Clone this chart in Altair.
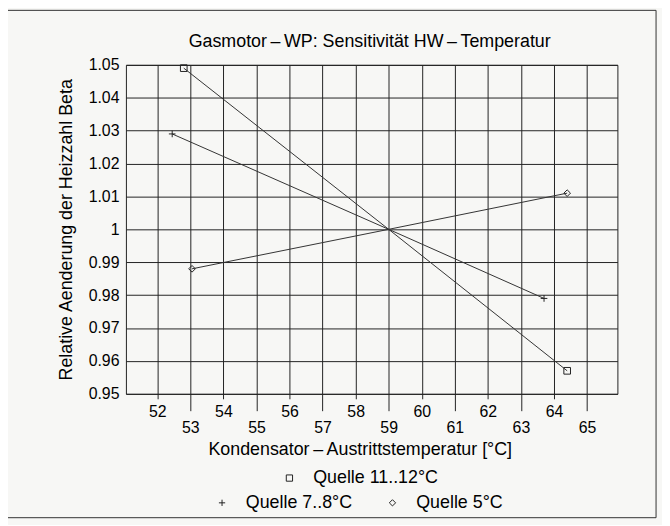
import altair as alt
import pandas as pd

series_names = ["Quelle 11..12°C", "Quelle 7..8°C", "Quelle 5°C"]

x_q11 = [52.8, 59.0, 64.4]
y_q11 = [1.049, 1.000, 0.957]

x_q7 = [52.45, 59.0, 63.7]
y_q7 = [1.029, 1.000, 0.979]

x_q5 = [53.05, 59.0, 64.4]
y_q5 = [0.988, 1.000, 1.011]

x_ticks = [52, 53, 54, 55, 56, 57, 58, 59, 60, 61, 62, 63, 64, 65]
y_ticks = [0.95, 0.96, 0.97, 0.98, 0.99, 1.0, 1.01, 1.02, 1.03, 1.04, 1.05]

chart_title = "Gasmotor\u2009–\u2009WP: Sensitivität HW\u2009–\u2009Temperatur"

rows = []
for name, xs, ys in zip(series_names, [x_q11, x_q7, x_q5], [y_q11, y_q7, y_q5]):
    for i, (xv, yv) in enumerate(zip(xs, ys)):
        rows.append({"serie": name, "T": xv, "beta": yv, "end": i != 1})
df = pd.DataFrame(rows)

FONT = "Liberation Sans"
INK = "#222222"
PLUS = "M-1,0H1M0,-1V1"
TICK_FS = 16
TITLE_FS = 18

x_enc = alt.X(
    "T:Q",
    scale=alt.Scale(domain=[51.05, 65.92], nice=False, zero=False),
    axis=alt.Axis(
        values=x_ticks,
        title="Kondensator\u2009–\u2009Austrittstemperatur [°C]",
        grid=True,
        gridColor=INK,
        gridOpacity=1,
        gridWidth=1,
        domain=False,
        ticks=True,
        tickColor=INK,
        tickSize={"condition": {"test": "datum.value % 2 == 1", "value": 17}, "value": 5},
        labelPadding={"condition": {"test": "datum.value % 2 == 1", "value": 9}, "value": 5},
        labelFont=FONT,
        labelFontSize=TICK_FS,
        labelColor="black",
        labelOverlap=False,
        titleFont=FONT,
        titleFontSize=TITLE_FS,
        titleFontWeight="normal",
        titleColor="black",
        titlePadding=5,
        titleX=236,
    ),
)

y_enc = alt.Y(
    "beta:Q",
    scale=alt.Scale(domain=[0.95, 1.05], nice=False, zero=False),
    axis=alt.Axis(
        values=y_ticks,
        format=".3~g",
        title="Relative Aenderung der Heizzahl Beta",
        grid=True,
        gridColor=INK,
        gridOpacity=1,
        gridWidth=1,
        domain=False,
        ticks=False,
        labelPadding=7,
        labelFont=FONT,
        labelFontSize=TICK_FS,
        labelColor="black",
        labelOverlap=False,
        titleFont=FONT,
        titleFontSize=TITLE_FS,
        titleFontWeight="normal",
        titleColor="black",
        titlePadding=13,
    ),
)

base = alt.Chart(df)

lines = base.mark_line(color="#333333", strokeWidth=1).encode(
    x=x_enc, y=y_enc, detail="serie:N", order="T:Q"
)

pts_a = base.transform_filter(
    (alt.datum.serie == series_names[0]) & alt.datum.end
).mark_point(filled=False, color=INK, strokeWidth=1, size=45, opacity=1).encode(
    x=x_enc,
    y=y_enc,
    shape=alt.Shape(
        "serie:N",
        scale=alt.Scale(domain=[series_names[0]], range=["square"]),
        legend=alt.Legend(
            orient="none",
            legendX=156,
            legendY=408,
            title=None,
            labelFont=FONT,
            labelFontSize=TITLE_FS,
            labelColor="black",
            labelOffset=15,
            symbolSize=40,
            symbolStrokeColor=INK,
            symbolStrokeWidth=1,
        ),
    ),
)

pts_b = base.transform_filter(
    (alt.datum.serie != series_names[0]) & alt.datum.end
).mark_point(filled=False, color=INK, strokeWidth=1, size=45, opacity=1).encode(
    x=x_enc,
    y=y_enc,
    shape=alt.Shape(
        "serie:N",
        scale=alt.Scale(domain=[series_names[1], series_names[2]], range=[PLUS, "diamond"]),
        legend=alt.Legend(
            orient="none",
            legendX=88,
            legendY=433,
            direction="horizontal",
            columns=2,
            columnPadding=31,
            title=None,
            labelFont=FONT,
            labelFontSize=TITLE_FS,
            labelColor="black",
            labelOffset=15,
            symbolSize=40,
            symbolStrokeColor=INK,
            symbolStrokeWidth=1,
        ),
    ),
)

one = pd.DataFrame({"t": [chart_title]})

title_mark = alt.Chart(one).mark_text(
    font=FONT, fontSize=TITLE_FS, color="black", align="center", baseline="middle"
).encode(text="t:N", x=alt.value(246), y=alt.value(-23))

frame = alt.Chart(one).mark_rect(
    fillOpacity=0, stroke="#333333", strokeWidth=1
).encode(
    x=alt.value(-121), x2=alt.value(535), y=alt.value(-55), y2=alt.value(457)
)

chart = (
    alt.layer(lines, pts_a, pts_b, title_mark, frame)
    .resolve_scale(shape="independent")
    .properties(
        width=496,
        height=332,
        autosize=alt.AutoSizeParams(type="none"),
        padding={"left": 119, "top": 55, "right": 45, "bottom": 130},
        background="#f7f7f5",
    )
    .configure_view(stroke=INK, strokeWidth=1)
)

chart.save("out.html", embed_options={"renderer": "svg", "actions": False})
